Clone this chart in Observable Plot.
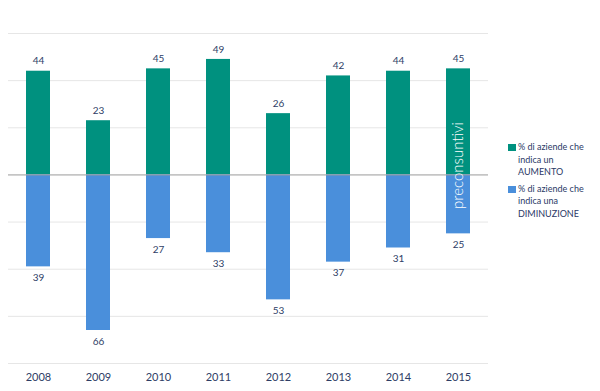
<!DOCTYPE html>
<html>
<head>
<meta charset="utf-8">
<script src="https://cdn.jsdelivr.net/npm/d3@7"></script>
<script src="https://cdn.jsdelivr.net/npm/@observablehq/plot@0.6"></script>
<style>
  html, body { margin: 0; padding: 0; background: #fff; }
  #wrap { position: relative; width: 600px; height: 391px; font-family: Lato, "Open Sans", sans-serif; }
  #legend { position: absolute; left: 508px; top: 141px; width: 92px; font-size: 9px; line-height: 12.5px; color: #2a3866; }
  .item { position: relative; padding-left: 10px; margin-bottom: 4px; }
  .sw { position: absolute; left: 0; top: 3px; width: 8px; height: 7px; }
</style>
</head>
<body>
<div id="wrap"><div id="legend"></div></div>
<script>
const years = ["2008", "2009", "2010", "2011", "2012", "2013", "2014", "2015"];
const aumento = [44, 23, 45, 49, 26, 42, 44, 45];
const diminuzione = [39, 66, 27, 33, 53, 37, 31, 25];
const gridTicks = [-80, -60, -40, -20, 20, 40, 60];
const seriesNames = ["% di aziende che indica un AUMENTO", "% di aziende che indica una DIMINUZIONE"];
const legendLines = [["% di aziende che", "indica un", "AUMENTO"], ["% di aziende che", "indica una", "DIMINUZIONE"]];
const noteText = "preconsuntivi";
const noteYear = "2015";

const colUp = "#00917f";
const colDown = "#4a8fdb";
const textCol = "#2e3d66";

const up = years.map((y, i) => ({year: y, value: aumento[i]}));
const down = years.map((y, i) => ({year: y, value: -diminuzione[i], label: diminuzione[i]}));

const chart = Plot.plot({
  width: 600,
  height: 391,
  marginLeft: 8,
  marginRight: 112,
  marginTop: 33,
  marginBottom: 28,
  style: {fontFamily: "Lato, 'Open Sans', sans-serif", background: "#fff"},
  x: {domain: years, paddingInner: 0.6, paddingOuter: 0.3, label: null, tickSize: 0, tickPadding: 10},
  y: {domain: [-80, 60], axis: null},
  marks: [
    Plot.ruleY(gridTicks, {stroke: "#e6e6e6", strokeWidth: 1}),
    Plot.barY(up, {x: "year", y: "value", fill: colUp}),
    Plot.barY(down, {x: "year", y: "value", fill: colDown}),
    Plot.ruleY([0], {stroke: "#9a9a9a", strokeWidth: 1}),
    Plot.text(up, {x: "year", y: "value", text: d => String(d.value), dy: -10, fill: textCol, fontSize: 10, letterSpacing: "0.5px"}),
    Plot.text(down, {x: "year", y: "value", text: d => String(d.label), dy: 11, fill: textCol, fontSize: 10, letterSpacing: "0.5px"}),
    Plot.text([noteText], {x: () => noteYear, y: () => 4, text: d => d, rotate: -90, fill: "#fff", fontSize: 15, fontWeight: 300}),
    Plot.axisX({tickSize: 0, tickPadding: 10, fontSize: 11, color: textCol, label: null})
  ]
});
const wrap = document.getElementById("wrap");
wrap.insertBefore(chart, wrap.firstChild);

const legend = document.getElementById("legend");
[colUp, colDown].forEach((c, i) => {
  const it = document.createElement("div");
  it.className = "item";
  it.title = seriesNames[i];
  const sw = document.createElement("span");
  sw.className = "sw";
  sw.style.background = c;
  it.appendChild(sw);
  legendLines[i].forEach(l => {
    const d = document.createElement("div");
    d.textContent = l;
    it.appendChild(d);
  });
  legend.appendChild(it);
});
</script>
</body>
</html>
